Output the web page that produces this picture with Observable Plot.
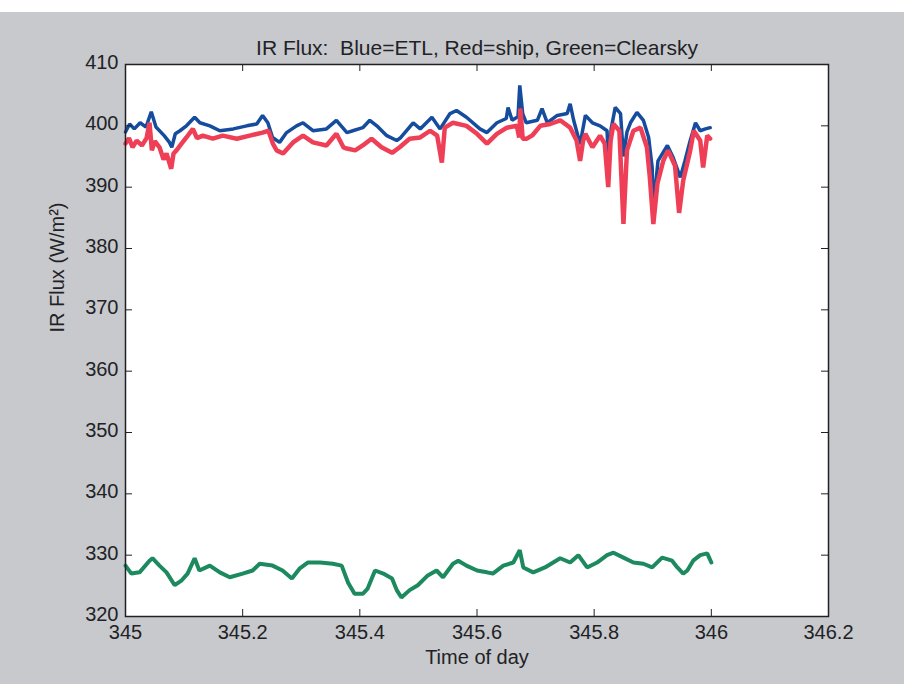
<!DOCTYPE html>
<html>
<head>
<meta charset="utf-8">
<script src="https://cdn.jsdelivr.net/npm/d3@7"></script>
<script src="https://cdn.jsdelivr.net/npm/@observablehq/plot@0.6"></script>
<style>
  html, body { margin: 0; padding: 0; background: #ffffff; }
  #chart { margin-top: 12px; width: 904px; height: 672px; background: #c7c9cc; }
</style>
</head>
<body>
<div id="chart"></div>
<script>
const titleText = "IR Flux:  Blue=ETL, Red=ship, Green=Clearsky";
const xLabelText = "Time of day";
const yLabelText = "IR Flux (W/m²)";

const xTicks = [345, 345.2, 345.4, 345.6, 345.8, 346, 346.2];
const xTickLabels = ["345", "345.2", "345.4", "345.6", "345.8", "346", "346.2"];
const yTicks = [320, 330, 340, 350, 360, 370, 380, 390, 400, 410];
const yTickLabels = ["320", "330", "340", "350", "360", "370", "380", "390", "400", "410"];

// Blue = ETL
const etlTime = [345.000,345.007,345.015,345.025,345.035,345.044,345.052,345.066,345.075,345.079,345.085,345.093,345.104,345.118,345.127,345.144,345.161,345.184,345.207,345.224,345.234,345.243,345.251,345.263,345.275,345.292,345.303,345.320,345.343,345.360,345.378,345.388,345.405,345.417,345.429,345.446,345.463,345.470,345.491,345.503,345.523,345.537,345.554,345.565,345.582,345.605,345.617,345.634,345.650,345.653,345.660,345.670,345.673,345.678,345.684,345.703,345.711,345.720,345.737,345.754,345.759,345.765,345.776,345.785,345.797,345.810,345.822,345.825,345.829,345.836,345.845,345.850,345.856,345.862,345.873,345.884,345.893,345.899,345.901,345.909,345.925,345.935,345.947,345.955,345.964,345.973,345.981,345.990,345.998];
const etlFlux = [399.0,400.3,399.5,400.5,399.8,402.3,399.8,398.4,397.3,396.5,398.7,399.2,400.0,401.4,400.5,400.0,399.2,399.5,400.0,400.3,401.7,400.5,398.1,397.3,398.9,400.0,400.5,399.2,399.5,400.9,398.9,399.2,399.7,400.9,400.0,398.4,397.6,398.1,400.5,399.5,401.4,399.5,402.0,402.5,401.4,399.5,398.9,400.5,401.2,403.0,400.9,401.5,406.6,402.0,400.5,400.9,402.8,400.5,401.7,402.0,403.6,400.9,397.0,401.7,400.5,400.0,399.2,392.7,399.5,403.0,402.0,395.0,399.0,400.5,402.2,400.9,398.1,393.2,386.5,394.3,396.8,394.8,391.6,394.3,397.6,400.5,399.2,399.5,399.7];

// Red = ship
const shipTime = [345.000,345.006,345.012,345.019,345.028,345.036,345.041,345.045,345.050,345.058,345.065,345.070,345.078,345.082,345.087,345.095,345.104,345.115,345.122,345.132,345.149,345.166,345.190,345.212,345.234,345.244,345.252,345.258,345.269,345.286,345.303,345.320,345.343,345.360,345.372,345.378,345.392,345.405,345.420,345.437,345.455,345.468,345.485,345.503,345.520,345.532,345.540,345.545,345.559,345.582,345.600,345.617,345.634,345.651,345.668,345.672,345.674,345.678,345.685,345.695,345.708,345.725,345.742,345.759,345.770,345.776,345.781,345.785,345.797,345.810,345.818,345.824,345.828,345.833,345.843,345.850,345.856,345.867,345.879,345.890,345.895,345.901,345.908,345.918,345.926,345.938,345.945,345.952,345.964,345.970,345.981,345.986,345.993,345.998];
const shipFlux = [397.1,398.0,396.5,397.6,396.8,398.0,400.5,396.0,397.5,396.5,394.5,395.5,393.0,395.5,396.0,397.0,398.1,399.5,398.0,398.4,397.9,398.4,397.9,398.4,398.9,399.2,397.0,396.0,395.5,397.3,398.4,397.3,396.8,398.7,396.5,396.3,396.0,396.8,397.9,396.5,395.6,396.5,397.9,398.1,399.2,398.4,394.0,399.7,400.5,400.0,398.7,397.1,398.7,399.7,400.0,398.1,402.8,397.9,397.9,398.5,400.0,400.3,400.9,399.7,397.6,394.3,397.5,398.7,396.5,398.4,397.1,390.0,397.5,400.3,399.2,384.0,396.0,399.2,399.7,396.5,391.6,384.0,390.6,394.3,396.0,393.5,385.8,391.1,396.0,399.2,397.6,393.2,398.4,397.9];

// Green = Clearsky
const clearTime = [345.000,345.010,345.024,345.041,345.046,345.058,345.070,345.084,345.096,345.106,345.118,345.126,345.144,345.161,345.178,345.200,345.217,345.229,345.251,345.268,345.284,345.297,345.311,345.332,345.354,345.369,345.380,345.391,345.405,345.413,345.426,345.440,345.455,345.463,345.471,345.485,345.499,345.516,345.531,345.542,345.559,345.568,345.582,345.600,345.617,345.627,345.645,345.662,345.673,345.679,345.696,345.716,345.742,345.759,345.773,345.788,345.805,345.822,345.833,345.850,345.867,345.884,345.899,345.916,345.933,345.942,345.952,345.959,345.969,345.981,345.993,346.000];
const clearFlux = [328.3,327.0,327.2,329.1,329.5,328.3,327.2,325.1,325.9,327.0,329.5,327.5,328.3,327.2,326.4,327.0,327.5,328.6,328.3,327.5,326.2,327.8,328.8,328.8,328.6,328.3,325.5,323.7,323.7,324.5,327.5,327.0,326.2,324.3,323.1,324.3,325.1,326.7,327.5,326.4,328.6,329.1,328.3,327.5,327.2,327.0,328.3,328.8,330.8,328.0,327.2,328.0,329.5,328.8,330.0,328.0,328.8,330.0,330.4,329.6,328.8,328.6,328.0,329.6,329.1,328.0,327.0,327.5,329.1,330.0,330.3,328.8];

const toRows = (ts, vs) => ts.map((t, i) => ({t, v: vs[i]}));
const etl = toRows(etlTime, etlFlux);
const ship = toRows(shipTime, shipFlux);
const clear = toRows(clearTime, clearFlux);

const W = 904, H = 672;
const mL = 125, mR = 76, mT = 52, mB = 68;
const innerW = W - mL - mR, innerH = H - mT - mB;
const tickLen = 7;
const txt = "#222226";

const chart = Plot.plot({
  width: W,
  height: H,
  marginLeft: mL,
  marginRight: mR,
  marginTop: mT,
  marginBottom: mB,
  x: {domain: [345, 346.2], axis: null},
  y: {domain: [320, 410], axis: null},
  style: {fontFamily: "'Liberation Sans', Arial, sans-serif", fontSize: "20px", background: "#c7c9cc", color: txt},
  marks: [
    Plot.frame({fill: "white", stroke: null}),
    Plot.line(clear, {x: "t", y: "v", stroke: "#1c8a5e", strokeWidth: 4, strokeLinejoin: "miter"}),
    Plot.line(etl, {x: "t", y: "v", stroke: "#154c9e", strokeWidth: 3.5, strokeLinejoin: "miter"}),
    Plot.line(ship, {x: "t", y: "v", stroke: "#ef3f57", strokeWidth: 4.5, strokeLinejoin: "miter"}),
    // inward ticks on all four sides
    Plot.ruleX(xTicks, {x: d => d, insetTop: innerH - tickLen, stroke: txt}),
    Plot.ruleX(xTicks, {x: d => d, insetBottom: innerH - tickLen, stroke: txt}),
    Plot.ruleY(yTicks, {y: d => d, insetRight: innerW - tickLen, stroke: txt}),
    Plot.ruleY(yTicks, {y: d => d, insetLeft: innerW - tickLen, stroke: txt}),
    Plot.frame({stroke: txt, strokeWidth: 1.5}),
    // tick labels
    Plot.text(xTicks, {x: d => d, text: (d, i) => xTickLabels[i], frameAnchor: "bottom", lineAnchor: "top", dy: 8, fill: txt, fontSize: 20}),
    Plot.text(yTicks, {y: d => d, text: (d, i) => yTickLabels[i], frameAnchor: "left", textAnchor: "end", dx: -7, dy: -2, fill: txt, fontSize: 20}),
    // title and axis labels
    Plot.text([titleText], {text: d => d, frameAnchor: "top", dy: -24, fill: txt, fontSize: 21}),
    Plot.text([xLabelText], {text: d => d, frameAnchor: "bottom", dy: 47, fill: txt, fontSize: 20}),
    Plot.text([yLabelText], {text: d => d, frameAnchor: "left", dx: -68, dy: -8, rotate: -90, fill: txt, fontSize: 20})
  ]
});
document.getElementById("chart").appendChild(chart);
</script>
</body>
</html>
